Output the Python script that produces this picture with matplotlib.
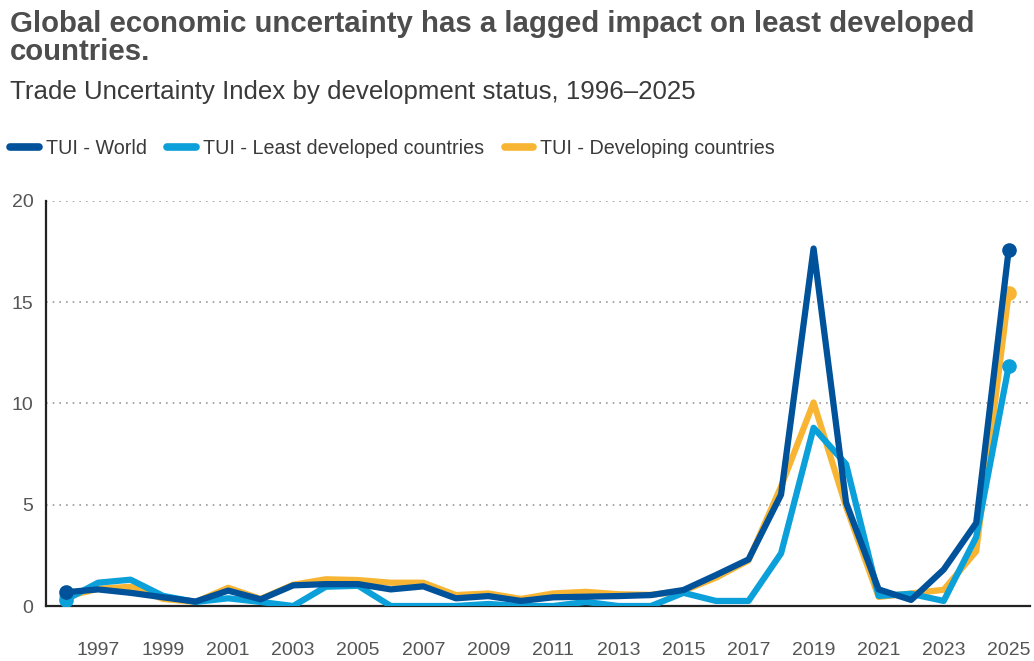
import matplotlib
matplotlib.use("Agg")
import matplotlib.pyplot as plt

# Trade Uncertainty Index, 1996-2025
years = list(range(1996, 2026))
tui_world = [0.68, 0.82, 0.65, 0.43, 0.22, 0.76, 0.33, 1.02, 1.08, 1.08,
             0.82, 0.97, 0.38, 0.49, 0.25, 0.43, 0.46, 0.49, 0.54, 0.79,
             1.53, 2.3, 5.5, 17.65, 5.1, 0.82, 0.3, 1.8, 4.1, 17.6]
tui_ldc = [0.3, 1.15, 1.3, 0.5, 0.2, 0.38, 0.2, 0.0, 0.95, 1.0,
           0.0, 0.0, 0.0, 0.1, 0.0, 0.0, 0.2, 0.0, 0.0, 0.65,
           0.25, 0.25, 2.6, 8.8, 7.0, 0.5, 0.6, 0.25, 3.4, 11.85]
tui_developing = [0.45, 0.85, 0.95, 0.35, 0.2, 0.9, 0.35, 1.05, 1.32, 1.28,
                  1.15, 1.15, 0.54, 0.62, 0.35, 0.62, 0.7, 0.58, 0.55, 0.75,
                  1.4, 2.25, 5.9, 10.05, 4.9, 0.45, 0.62, 0.8, 2.7, 15.45]

c_world = "#00529b"
c_ldc = "#0ba0d9"
c_dev = "#f8b533"
txt = "#4d4d4d"
font = "Liberation Sans"

fig = plt.figure(figsize=(10.34, 6.61), dpi=100)
ax = fig.add_axes([0.0445, 0.0832, 0.9515, 0.6128])

lw = 4.5
kw = dict(linewidth=lw, marker="o", markersize=9.5, markevery=[0, -1],
          solid_capstyle="round")
ax.plot(years, tui_developing, color=c_dev, zorder=3, label="TUI - Developing countries", **kw)
ax.plot(years, tui_ldc, color=c_ldc, zorder=4, label="TUI - Least developed countries", **kw)
ax.plot(years, tui_world, color=c_world, zorder=5, label="TUI - World", **kw)

ax.set_xlim(1995.4, 2025.65)
ax.set_ylim(0, 20)
ax.set_yticks([0, 5, 10, 15, 20])
ax.set_xticks(list(range(1997, 2026, 2)))

ax.grid(axis="y", linestyle=(0, (1, 3)), color="#9a9a9a", linewidth=1.2)
ax.set_axisbelow(True)
for s in ["top", "right"]:
    ax.spines[s].set_visible(False)
for s in ["left", "bottom"]:
    ax.spines[s].set_color("#222222")
    ax.spines[s].set_linewidth(1.6)

ax.tick_params(axis="x", length=0, pad=26, labelsize=14, labelcolor="#555555")
ax.tick_params(axis="y", length=0, pad=9, labelsize=14, labelcolor="#555555")
for lab in ax.get_xticklabels() + ax.get_yticklabels():
    lab.set_fontfamily(font)

fig.text(0.0097, 1 - 32 / 661, "Global economic uncertainty has a lagged impact on least developed",
         fontsize=21.2, fontweight="bold", color=txt, family=font, va="baseline")
fig.text(0.0097, 1 - 60 / 661, "countries.",
         fontsize=21.2, fontweight="bold", color=txt, family=font, va="baseline")
fig.text(0.0097, 1 - 99 / 661, "Trade Uncertainty Index by development status, 1996\u20132025",
         fontsize=18.6, color="#3a3a3a", family=font, va="baseline")

handles, labels = ax.get_legend_handles_labels()
order = [2, 1, 0]
leg = fig.legend([handles[i] for i in order], [labels[i] for i in order],
                 loc="center left", bbox_to_anchor=(10 / 1034, 1 - 148 / 661), ncol=3,
                 frameon=False, handlelength=1.45, handletextpad=0.35, columnspacing=1.05,
                 borderaxespad=0, borderpad=0,
                 prop={"family": font, "size": 14.2})
for line in leg.get_lines():
    line.set_marker("")
    line.set_linewidth(5.5)
for t in leg.get_texts():
    t.set_color("#3a3a3a")

fig.savefig("out.png", dpi=100)
